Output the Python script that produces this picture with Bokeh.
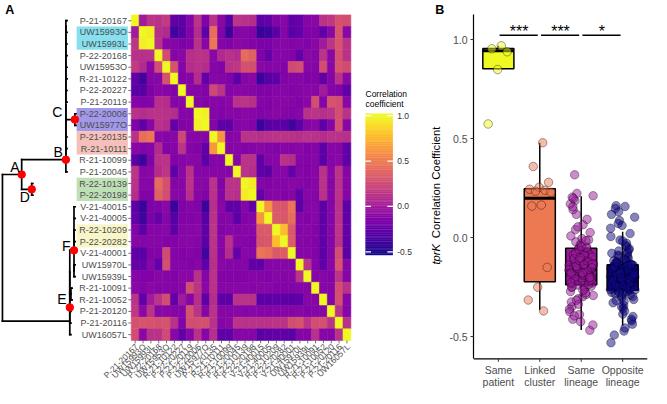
import math
from bokeh.plotting import figure
from bokeh.layouts import row
from bokeh.models import (Range1d, ColumnDataSource, LinearColorMapper,
                          FixedTicker, NumeralTickFormatter)
from bokeh.palettes import Plasma256
from bokeh.embed import file_html
from bokeh.resources import INLINE
from bokeh.core.properties import value

FONT = "Liberation Sans"

# ---------------- data: panel A ----------------
samples = ["P-21-20167", "UW15993O", "UW15993L", "P-22-20168", "UW15953O", "R-21-10122",
           "P-22-20227", "P-21-20119", "P-22-20006", "UW15977O", "P-21-20135", "R-21-10111",
           "R-21-10099", "P-21-20045", "R-22-10139", "P-22-20198", "V-21-40015", "V-21-40005",
           "R-22-10209", "P-22-20282", "V-21-40001", "UW15970L", "UW15939L", "R-21-10091",
           "R-21-10052", "P-21-20120", "P-21-20116", "UW16057L"]

# upper triangle of the correlation matrix (row i, columns i+1 .. 27)
corr_upper = [
    [0.0, 0.14, 0.12, 0.17, -0.26, -0.28, -0.12, 0.13, -0.14, 0.12, -0.1, -0.29, 0.14, 0.12, 0.1, -0.27, -0.25, -0.13, -0.11, -0.26, -0.24, -0.12, -0.1, 0.13, 0.16, 0.29, 0.27],
    [0.96, 0.11, 0.08, -0.38, -0.3, -0.14, 0.1, -0.27, 0.44, -0.13, -0.4, -0.12, -0.11, -0.13, -0.42, -0.39, -0.28, -0.12, -0.29, -0.25, -0.14, -0.13, -0.26, -0.1, 0.31, -0.1],
    [0.12, -0.1, -0.12, -0.15, -0.13, 0.12, -0.11, 0.48, -0.12, -0.14, -0.1, -0.11, -0.13, -0.15, -0.16, -0.12, -0.11, -0.13, -0.12, -0.14, -0.1, 0.0, 0.14, 0.3, 0.12],
    [0.27, -0.12, -0.1, 0.11, 0.13, 0.12, -0.1, 0.08, 0.12, 0.1, 0.42, 0.38, -0.14, -0.24, -0.12, -0.11, -0.13, -0.25, -0.1, -0.12, 0.14, -0.1, 0.29, 0.12],
    [0.3, -0.12, 0.1, 0.12, 0.1, -0.12, -0.13, 0.13, 0.15, 0.29, 0.27, -0.1, -0.12, -0.11, -0.13, 0.26, 0.28, -0.11, -0.12, 0.27, -0.1, 0.3, 0.26],
    [-0.13, -0.12, 0.1, -0.25, -0.11, -0.12, -0.14, -0.27, -0.12, -0.1, -0.41, -0.3, -0.27, -0.13, -0.12, -0.11, -0.14, -0.13, -0.26, -0.12, 0.12, -0.1],
    [-0.11, -0.12, -0.13, 0.25, 0.14, -0.12, -0.1, -0.11, -0.12, -0.14, -0.13, -0.12, -0.11, -0.13, -0.12, -0.1, -0.11, 0.0, -0.12, -0.13, -0.26],
    [-0.12, -0.13, -0.11, -0.12, -0.1, 0.12, 0.14, 0.11, -0.12, -0.13, -0.11, -0.1, -0.12, -0.13, -0.1, 0.28, -0.12, 0.3, 0.27, -0.11],
    [0.97, -0.12, -0.13, -0.11, -0.12, -0.1, -0.11, -0.13, -0.12, -0.1, -0.12, -0.13, -0.11, 0.12, 0.14, 0.11, 0.13, 0.28, 0.12],
    [-0.12, -0.26, -0.28, -0.12, -0.11, -0.13, -0.4, -0.3, -0.27, -0.28, -0.38, -0.26, -0.12, -0.1, -0.27, -0.12, 0.29, -0.11],
    [0.63, -0.12, -0.11, 0.13, 0.12, 0.11, 0.12, 0.14, 0.13, 0.12, 0.11, 0.13, 0.12, 0.1, 0.13, 0.12, 0.11],
    [-0.12, -0.11, -0.13, -0.12, -0.1, -0.12, -0.13, -0.11, -0.12, -0.1, -0.13, -0.12, -0.27, -0.11, -0.12, -0.26],
    [-0.12, 0.13, 0.12, -0.27, -0.12, -0.11, 0.12, 0.1, -0.12, -0.13, -0.11, -0.28, -0.12, -0.1, -0.27],
    [0.13, 0.11, -0.26, -0.28, -0.12, -0.11, -0.25, -0.12, -0.13, -0.11, 0.12, -0.1, 0.13, -0.12],
    [0.95, -0.12, -0.13, -0.11, -0.12, -0.1, -0.12, -0.13, -0.11, 0.13, -0.12, 0.12, -0.11],
    [-0.25, -0.12, -0.11, -0.13, -0.12, -0.26, -0.11, -0.12, 0.12, -0.11, 0.13, -0.12],
    [0.62, 0.33, 0.31, 0.47, -0.27, -0.12, -0.11, -0.28, -0.12, 0.12, -0.29],
    [0.34, 0.32, 0.44, -0.12, -0.13, -0.11, -0.27, -0.12, 0.13, -0.26],
    [0.78, 0.33, -0.12, -0.11, -0.13, -0.26, -0.12, 0.14, -0.25],
    [0.35, -0.11, -0.12, -0.13, -0.27, -0.12, 0.13, -0.26],
    [-0.12, -0.11, -0.13, -0.28, -0.12, 0.27, -0.29],
    [0.14, -0.12, -0.26, -0.11, 0.3, -0.12],
    [-0.12, -0.11, -0.13, 0.14, -0.12],
    [-0.11, -0.12, 0.27, 0.12],
    [-0.12, 0.29, -0.11],
    [0.13, -0.12],
    [0.12],
]

highlight_rows = [[1, 2], [8, 9], [10, 11], [14, 15], [18, 19]]
highlight_colors = ["#86e0ef", "#a198ea", "#f4c0b9", "#bfdfb7", "#f8f6c8"]

colorbar_ticks = [-0.5, 0.0, 0.5, 1.0]
colorbar_title = ["Correlation", "coefficient"]

# tree topology and branch lengths
tree_children = {
    "root": ["A", "L"],
    "A": ["B", "D"],
    "C": [8, 9],
    "D": [14, 15],
    "L": ["E", 27],
    "E": ["L2", 26],
    "L2": ["L1", 25],
    "L1": ["F", "G"],
    "F": ["P", "Q"],
    "P": [16, 17, 18, 19, 20],
    "Q": [21, 22],
    "G": [23, 24],
}
b_chain = [0, 1, 2, 3, 4, 5, 6, 7, "C", 10, 11, 12, 13]
branch_len = {"A": 19.7, "B": 45.3, "C": 9.2, "D": 10.3, "L": 69.0, "F": 4.3, "G": 1.2}
TIP_LEN = 1.2
marked_nodes = ["A", "B", "C", "D", "E", "F"]

# ---------------- data: panel B ----------------
cat_names = ["Same\npatient", "Linked\ncluster", "Same\nlineage", "Opposite\nlineage"]
cat_colors = ["#F0F921", "#ED7953", "#9C179E", "#0D0887"]

same_patient = [0.97, 0.955, 0.94, 0.85, 0.575]
linked_cluster = [0.48, 0.36, 0.28, 0.255, 0.245, 0.24, 0.235, 0.23, 0.165, 0.16, -0.15, -0.25, -0.315, -0.37]
same_lineage = [
    -0.142, 0.318, -0.205, -0.061, -0.233, -0.118, 0.224, -0.176, -0.298, -0.087,
    -0.011, -0.192, -0.152, -0.254, 0.041, -0.131, -0.216, -0.349, -0.071, -0.166,
    0.212, -0.241, -0.104, -0.186, -0.037, -0.272, -0.158, 0.118, -0.226, -0.094,
    -0.412, -0.181, -0.055, -0.139, -0.263, 0.187, -0.199, -0.125, -0.325, -0.048,
    -0.171, -0.229, 0.066, -0.146, -0.082, -0.388, -0.211, -0.161, -0.021, -0.245,
    -0.113, 0.205, -0.195, -0.309, -0.135, -0.076, -0.222, -0.468, -0.168, 0.009,
    -0.287, -0.149, -0.098, -0.183, 0.142, -0.236, -0.057, -0.361, -0.174, -0.128,
    -0.203, -0.031, -0.251, 0.093, -0.155, -0.441, -0.189, -0.108, -0.219, -0.066,
    0.171, -0.278, -0.144, -0.197, -0.004, -0.232, -0.121, -0.336, -0.163, -0.088,
    -0.208, 0.026, -0.425, -0.179, -0.052, -0.239, -0.132, -0.266, 0.198, -0.186,
    -0.115, -0.374, -0.157, -0.079, -0.213, -0.043, -0.248, -0.169, 0.055, -0.292,
    -0.137, -0.395, -0.201, -0.101, -0.227, -0.015, -0.316, -0.152, -0.178, 0.156]
opposite_lineage = [
    -0.188, 0.162, -0.221, -0.143, -0.257, -0.097, -0.201, -0.312, -0.168, -0.236,
    0.021, -0.179, -0.154, -0.274, -0.118, -0.209, -0.386, -0.193, -0.061, -0.248,
    -0.161, 0.158, -0.227, -0.136, -0.295, -0.184, -0.082, -0.215, -0.176, -0.343,
    -0.149, -0.262, -0.012, -0.197, -0.231, -0.127, -0.421, -0.172, -0.244, -0.105,
    0.131, -0.205, -0.158, -0.283, -0.191, -0.138, -0.218, -0.044, -0.267, -0.182,
    -0.358, -0.146, -0.239, 0.087, -0.199, -0.113, -0.253, -0.166, -0.304, -0.187,
    -0.074, -0.224, -0.141, -0.472, -0.211, -0.178, -0.259, 0.006, -0.195, -0.132,
    -0.236, -0.164, -0.329, -0.203, -0.092, -0.246, -0.152, 0.148, -0.217, -0.185,
    -0.277, -0.122, -0.208, -0.398, -0.171, -0.229, -0.056, -0.194, -0.262, -0.147,
    -0.317, -0.181, 0.062, -0.221, -0.139, -0.251, -0.174, -0.107, -0.203, -0.289,
    -0.159, -0.235, -0.028, -0.189, -0.437, -0.214, -0.145, -0.268, -0.176, 0.104,
    -0.226, -0.129, -0.197, -0.349, -0.167, -0.243, -0.088, -0.206, -0.183, -0.492,
    -0.257, -0.153, 0.048, -0.219, -0.196, -0.135, -0.281, -0.172, -0.231, -0.067,
    -0.192, -0.371, -0.161, -0.248, -0.211, 0.118, -0.143, -0.186, -0.297, -0.224,
    -0.117, -0.201, -0.169, -0.264, -0.038, -0.182, -0.412, -0.238, -0.155, -0.209,
    0.072, -0.192, -0.322, -0.148, -0.228, -0.178, -0.531, -0.254, -0.126, -0.199,
    -0.016, -0.213, -0.165, -0.275, -0.184, -0.456, -0.241, -0.137, -0.205, -0.079]

box_lo = [0.85, -0.365, -0.467, -0.445]
box_q1 = [0.854, -0.222, -0.238, -0.265]
box_med = [0.945, 0.2, -0.163, -0.19]
box_q3 = [0.956, 0.247, -0.053, -0.137]
box_hi = [0.97, 0.48, 0.21, 0.03]

sig_from = [1, 2, 3]
sig_to = [2, 3, 4]
sig_text = ["***", "***", "*"]

y_ticks_b = [-0.5, 0.0, 0.5, 1.0]
ylabel_italic = "tprK"
ylabel_rest = "Correlation Coefficient"

# ---------------- layout constants ----------------
H_TOTAL = 388
WA = 446
WB = 205
REF_WA, REF_H = 457.0, 404.0
PX_PER_REF_Y = H_TOTAL / REF_H

HX0, HX1, HY0, HY1 = 134.0, 359.0, 15.0, 354.0
N = len(samples)
CW = (HX1 - HX0) / N
RH = (HY1 - HY0) / N
TREE_X0 = 2.0
CB_LEFT, CB_RIGHT, CB_TOP, CB_BOTTOM = 374.0, 402.0, 118.0, 265.0
CB_VMIN, CB_VMAX = -0.535, 1.02

mapper = LinearColorMapper(palette=Plasma256, low=-0.535, high=1.0)

# full symmetric matrix
M = [[1.0] * N for _ in range(N)]
for i, vals in enumerate(corr_upper):
    for k, v in enumerate(vals):
        j = i + 1 + k
        M[i][j] = v
        M[j][i] = v

# ---------------- panel A ----------------
pA = figure(width=WA, height=H_TOTAL, x_range=Range1d(0, REF_WA), y_range=Range1d(-REF_H, 0),
            output_backend="svg", toolbar_location=None, min_border=0,
            x_axis_location=None, y_axis_location=None)
pA.grid.visible = False
pA.outline_line_color = None


def row_y(r):
    return HY0 + (r + 0.5) * RH


def col_x(c):
    return HX0 + (c + 0.5) * CW


# highlight boxes behind labels
hl_top, hl_bot = [], []
for rows_ in highlight_rows:
    hl_top.append(-(HY0 + min(rows_) * RH))
    hl_bot.append(-(HY0 + (max(rows_) + 1) * RH))
pA.quad(left=78, right=130.5, top=hl_top, bottom=hl_bot, fill_color=highlight_colors, line_color=None)

# heatmap
hx, hy, hv = [], [], []
for i in range(N):
    for j in range(N):
        hx.append(col_x(j))
        hy.append(-row_y(i))
        hv.append(M[i][j])
hsrc = ColumnDataSource(dict(x=hx, y=hy, v=hv))
pA.rect(x="x", y="y", width=CW, height=RH, source=hsrc,
        fill_color={"field": "v", "transform": mapper},
        line_color={"field": "v", "transform": mapper}, line_width=0.6)

# tick marks
pA.segment(x0=[HX0 - 3] * N, x1=[HX0] * N, y0=[-row_y(r) for r in range(N)],
           y1=[-row_y(r) for r in range(N)], line_color="#4d4d4d", line_width=0.8)
pA.segment(x0=[col_x(c) for c in range(N)], x1=[col_x(c) for c in range(N)],
           y0=[-HY1] * N, y1=[-(HY1 + 3)] * N, line_color="#4d4d4d", line_width=0.8)

# row labels
pA.text(x=[HX0 - 4.5] * N, y=[-row_y(r) for r in range(N)], text=samples,
        text_align="right", text_baseline="middle", text_font_size="9px",
        text_color="#4d4d4d", text_font=value(FONT))
# column labels
pA.text(x=[col_x(c) + 1.5 for c in range(N)], y=[-(HY1 + 5)] * N, text=samples,
        angle=math.pi / 4, text_align="right", text_baseline="middle",
        text_font_size="8.5px", text_color="#4d4d4d", text_font=value(FONT))

# tree
prev = b_chain[0]
for k, e in enumerate(b_chain[1:], 1):
    name = "B" if k == len(b_chain) - 1 else "b%d" % k
    tree_children[name] = [prev, e]
    prev = name

pos = {}


def place(node, xpar):
    if isinstance(node, int):
        x = xpar + TIP_LEN
        y = row_y(node)
    else:
        x = xpar + branch_len.get(node, 0.0)
        ys = [place(c, x)[1] for c in tree_children[node]]
        y = sum(ys) / len(ys)
    pos[node] = (x, y)
    return x, y


place("root", TREE_X0)
sx0, sx1, sy0, sy1 = [], [], [], []
for node, kids in tree_children.items():
    x, _ = pos[node]
    kys = [pos[k][1] for k in kids]
    sx0.append(x); sx1.append(x); sy0.append(-min(kys)); sy1.append(-max(kys))
    for k in kids:
        sx0.append(x); sx1.append(pos[k][0]); sy0.append(-pos[k][1]); sy1.append(-pos[k][1])
pA.segment(x0=sx0, x1=sx1, y0=sy0, y1=sy1, line_color="black", line_width=1.7, line_cap="square")

label_offset = {"A": (-7, -8), "B": (-8, -8), "C": (-18, -8), "D": (-7, 8), "E": (-8, -9), "F": (-8, -5)}
pA.scatter(x=[pos[n][0] for n in marked_nodes], y=[-pos[n][1] for n in marked_nodes],
           size=7.5, fill_color="#ff0000", line_color="#ff0000")
pA.text(x=[pos[n][0] + label_offset[n][0] for n in marked_nodes],
        y=[-(pos[n][1] + label_offset[n][1]) for n in marked_nodes], text=marked_nodes,
        text_align="center", text_baseline="middle", text_font_size="14px",
        text_color="black", text_font=value(FONT))

# panel letters
pA.text(x=[9.5, 450], y=[-9.5, -10], text=["A", "B"], text_align="center", text_baseline="middle",
        text_font_size="12.5px", text_font_style="bold", text_color="black", text_font=value(FONT))

# colour bar (drawn with the same colour mapper)
NSTEP = 200
cb_span = CB_BOTTOM - CB_TOP


def cb_pos(v):
    return -(CB_BOTTOM - (v - CB_VMIN) / (CB_VMAX - CB_VMIN) * cb_span)


cb_vals = [CB_VMIN + (k + 0.5) * (CB_VMAX - CB_VMIN) / NSTEP for k in range(NSTEP)]
cbsrc = ColumnDataSource(dict(x=[(CB_LEFT + CB_RIGHT) / 2] * NSTEP,
                              y=[cb_pos(v) for v in cb_vals], v=cb_vals))
pA.rect(x="x", y="y", width=CB_RIGHT - CB_LEFT, height=cb_span / NSTEP * 1.6, source=cbsrc,
        fill_color={"field": "v", "transform": mapper}, line_color=None)
tick_y = [cb_pos(t) for t in colorbar_ticks]
tick_len = (CB_RIGHT - CB_LEFT) / 5
pA.segment(x0=[CB_LEFT] * 4 + [CB_RIGHT - tick_len] * 4,
           x1=[CB_LEFT + tick_len] * 4 + [CB_RIGHT] * 4,
           y0=tick_y * 2, y1=tick_y * 2, line_color="white", line_width=1.2)
pA.text(x=[CB_RIGHT + 4.5] * 4, y=tick_y, text=["%.1f" % t for t in colorbar_ticks],
        text_align="left", text_baseline="middle", text_font_size="8.5px",
        text_color="#333333", text_font=value(FONT))
pA.text(x=[CB_LEFT, CB_LEFT], y=[-97, -107.5], text=colorbar_title, text_align="left",
        text_baseline="middle", text_font_size="8.5px", text_color="black", text_font=value(FONT))

# y-axis title of panel B (italic gene name + plain rest)
YL_X, YL_CY, YL_LEN = 446.0, 205.0, 140.0
YL_ITAL = 27.5
pA.text(x=[YL_X], y=[-(YL_CY + YL_LEN / 2)], text=[ylabel_italic], angle=math.pi / 2,
        text_align="left", text_baseline="middle", text_font_size="11.3px",
        text_font_style="italic", text_color="black", text_font=value(FONT))
pA.text(x=[YL_X], y=[-(YL_CY + YL_LEN / 2 - YL_ITAL)], text=[ylabel_rest], angle=math.pi / 2,
        text_align="left", text_baseline="middle", text_font_size="11.3px",
        text_color="black", text_font=value(FONT))

# ---------------- panel B ----------------
# vertical value scale: 1.0 at reference row 41, 0.5 per 103 reference px
REF_Y_ONE, REF_PER_UNIT = 41.0, 206.0
Y_TOP = 1.0 + REF_Y_ONE / REF_PER_UNIT
Y_BOT = 1.0 - (REF_H - REF_Y_ONE) / REF_PER_UNIT
AX_BOT, AX_TOP = -0.612, 1.126          # extent of the drawn panel
X_LO, X_HI = 0.4, 4.6
unit_px = PX_PER_REF_Y * REF_PER_UNIT   # screen px per unit of y

pB = figure(width=WB, height=H_TOTAL, x_range=Range1d(X_LO, X_HI), y_range=Range1d(Y_BOT, Y_TOP),
            output_backend="svg", toolbar_location=None, x_axis_location=None,
            min_border_left=25, min_border_right=4, min_border_top=0, min_border_bottom=0)
pB.grid.visible = False
pB.outline_line_color = None
yax = pB.yaxis[0]
yax.ticker = FixedTicker(ticks=y_ticks_b)
yax.formatter = NumeralTickFormatter(format="0.0")
yax.bounds = (AX_BOT, AX_TOP)
yax.axis_line_color = "black"
yax.axis_line_width = 1.2
yax.major_tick_line_color = "#333333"
yax.major_tick_in = 0
yax.major_tick_out = 3
yax.minor_tick_line_color = None
yax.major_label_text_font_size = "10.5px"
yax.major_label_text_color = "#4d4d4d"
yax.major_label_text_font = FONT
yax.major_label_standoff = 3

xc = [1, 2, 3, 4]
# bottom axis line, ticks and category labels
pB.segment(x0=[X_LO], x1=[X_HI], y0=[AX_BOT], y1=[AX_BOT], line_color="black", line_width=1.2)
pB.segment(x0=xc, x1=xc, y0=[AX_BOT] * 4, y1=[AX_BOT - 3 / unit_px] * 4,
           line_color="#333333", line_width=1)
pB.text(x=xc, y=[AX_BOT - 5 / unit_px] * 4, text=cat_names, text_align="center",
        text_baseline="top", text_font_size="10.5px", text_color="#4d4d4d",
        text_line_height=1.05, text_font=value(FONT))

# whiskers
pB.segment(x0=xc, x1=xc, y0=box_q3, y1=box_hi, line_color="black", line_width=1.5)
pB.segment(x0=xc, x1=xc, y0=box_q1, y1=box_lo, line_color="black", line_width=1.5)
pB.vbar(x=xc, width=0.75, top=box_q3, bottom=box_q1, fill_color=cat_colors,
        line_color="black", line_width=1.5)
pB.segment(x0=[x - 0.375 for x in xc], x1=[x + 0.375 for x in xc], y0=box_med, y1=box_med,
           line_color="black", line_width=3)

# jittered points
JIT = 0.3
groups = [same_patient, linked_cluster, same_lineage, opposite_lineage]
px, py, pc = [], [], []
for g, (vals, col) in enumerate(zip(groups, cat_colors)):
    for k, v in enumerate(vals):
        off = (((k + 1) * 0.6180339887) % 1.0 - 0.5) * 2 * JIT
        px.append(g + 1 + off)
        py.append(v)
        pc.append(col)
pB.scatter(x=px, y=py, size=8.5, fill_color=pc, fill_alpha=0.5, line_color="black",
           line_alpha=0.45, line_width=0.8)

# significance bars
pB.segment(x0=[a + 0.03 for a in sig_from], x1=[b - 0.05 for b in sig_to],
           y0=[1.024] * 3, y1=[1.024] * 3, line_color="black", line_width=1.5)
pB.text(x=[(a + b) / 2 for a, b in zip(sig_from, sig_to)], y=[1.043] * 3, text=sig_text,
        text_align="center", text_baseline="middle", text_font_size="16px",
        text_color="black", text_font=value(FONT))

layout = row(pA, pB)
open("out.html", "w").write(file_html(layout, INLINE))
